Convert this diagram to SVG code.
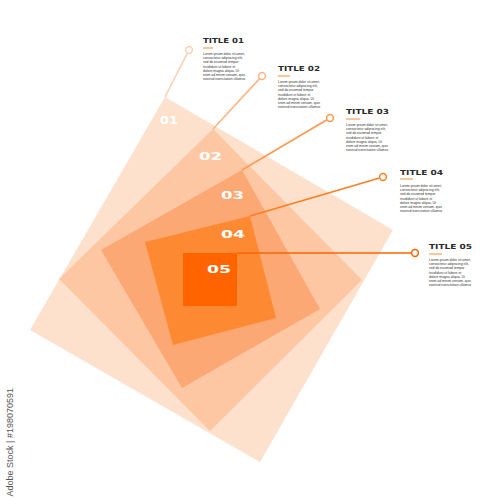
<svg xmlns="http://www.w3.org/2000/svg" width="500" height="500" viewBox="0 0 500 500">
  <style>
    .title { font-family: "DejaVu Sans", "Liberation Sans", sans-serif; font-weight: bold; font-size: 7px; fill: #2b2b2b; }
    .body { font-family: "Liberation Sans", Arial, sans-serif; font-size: 3.4px; fill: #333333; }
    .num { font-family: "DejaVu Sans", "Liberation Sans", sans-serif; font-weight: bold; font-size: 10px; fill: #ffffff; }
    .ul { stroke: #fd8a3a; stroke-width: 1; }
    .dot { fill: #ffffff; stroke-width: 1.5; }
    .conn { stroke-width: 1.6; fill: none; }
    .wm { font-family: "Liberation Sans", Arial, sans-serif; font-size: 9px; fill: #555555; }
  </style>
  <defs>
    <g id="lorem">
      <text class="body" x="0" y="0">Lorem ipsum dolor sit amet,</text>
      <text class="body" x="0" y="4.2">consectetur adipiscing elit,</text>
      <text class="body" x="0" y="8.4">sed do eiusmod tempor</text>
      <text class="body" x="0" y="12.6">incididunt ut labore et</text>
      <text class="body" x="0" y="16.8">dolore magna aliqua. Ut</text>
      <text class="body" x="0" y="21">enim ad minim veniam, quis</text>
      <text class="body" x="0" y="25.2">nostrud exercitation ullamco</text>
    </g>
  </defs>
  <rect width="500" height="500" fill="#ffffff"/>

  <g id="square-01">
    <polygon points="165,97 393,230 260,462 30,330" fill="#fde1cd"/>
  </g>
  <g id="square-02">
    <polygon points="213,129 362,280 210,431 59,279" fill="#fdc7a3"/>
  </g>
  <g id="square-03">
    <polygon points="242,170 320,309 182,388 101,250" fill="#fca874"/>
  </g>
  <g id="square-04">
    <polygon points="145,242 250,216 276,318 173,345" fill="#fd8a33"/>
  </g>
  <g id="square-05">
    <rect x="183" y="253" width="54" height="53" fill="#ff6400"/>
  </g>

  <g id="connectors">
    <line class="conn" x1="165" y1="97" x2="187.4" y2="53.2" stroke="#fdd0b2"/>
    <line class="conn" x1="213" y1="129" x2="259.6" y2="78.6" stroke="#fdb585"/>
    <line class="conn" x1="242" y1="170" x2="327" y2="119.8" stroke="#fd9a52"/>
    <line class="conn" x1="250" y1="216" x2="379.6" y2="178" stroke="#fd7d22"/>
    <line class="conn" x1="237" y1="253" x2="411.5" y2="253" stroke="#ff6400"/>
    <circle class="dot" cx="189" cy="50" r="3.4" stroke="#fdd0b2"/>
    <circle class="dot" cx="262" cy="76" r="3.4" stroke="#fdb585"/>
    <circle class="dot" cx="330" cy="118" r="3.4" stroke="#fd9a52"/>
    <circle class="dot" cx="383" cy="177" r="3.4" stroke="#fd7d22"/>
    <circle class="dot" cx="415" cy="253" r="3.4" stroke="#ff6400"/>
  </g>

  <g id="labels">
    <text class="num" x="160" y="124" textLength="18" lengthAdjust="spacingAndGlyphs" font-size="9">01</text>
    <text class="num" x="199" y="160" textLength="23" lengthAdjust="spacingAndGlyphs">02</text>
    <text class="num" x="221" y="199" textLength="23" lengthAdjust="spacingAndGlyphs">03</text>
    <text class="num" x="221" y="238" textLength="24" lengthAdjust="spacingAndGlyphs">04</text>
    <text class="num" x="207" y="273" textLength="24" lengthAdjust="spacingAndGlyphs">05</text>
  </g>

  <g id="info-01">
    <text class="title" x="203" y="43" textLength="41" lengthAdjust="spacingAndGlyphs">TITLE 01</text>
    <line class="ul" x1="203" y1="48" x2="213" y2="48"/>
    <use href="#lorem" x="203" y="55"/>
  </g>
  <g id="info-02">
    <text class="title" x="278" y="71" textLength="42" lengthAdjust="spacingAndGlyphs">TITLE 02</text>
    <line class="ul" x1="278" y1="76" x2="290" y2="76"/>
    <use href="#lorem" x="278" y="83"/>
  </g>
  <g id="info-03">
    <text class="title" x="346" y="114" textLength="43" lengthAdjust="spacingAndGlyphs">TITLE 03</text>
    <line class="ul" x1="346" y1="119" x2="360" y2="119"/>
    <use href="#lorem" x="346" y="126"/>
  </g>
  <g id="info-04">
    <text class="title" x="400" y="175" textLength="43" lengthAdjust="spacingAndGlyphs">TITLE 04</text>
    <line class="ul" x1="400" y1="179" x2="413" y2="179"/>
    <use href="#lorem" x="400" y="187"/>
  </g>
  <g id="info-05">
    <text class="title" x="429" y="249" textLength="43" lengthAdjust="spacingAndGlyphs">TITLE 05</text>
    <line class="ul" x1="429" y1="254" x2="442" y2="254"/>
    <use href="#lorem" x="429" y="261"/>
  </g>

  <text class="wm" x="13" y="388" text-anchor="end" transform="rotate(-90 13 388)">Adobe Stock | #198070591</text>
</svg>
